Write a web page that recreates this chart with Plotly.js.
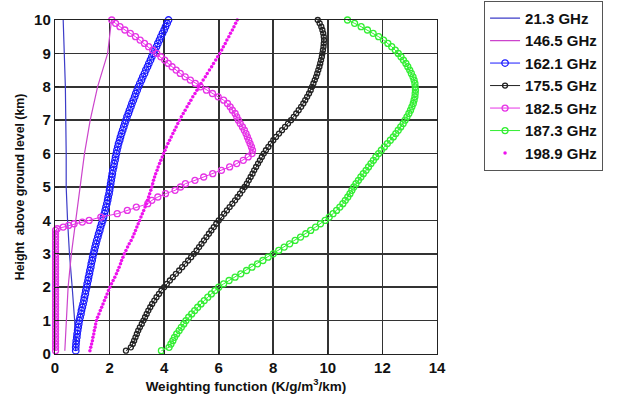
<!DOCTYPE html>
<html><head><meta charset="utf-8">
<script src="https://cdn.plot.ly/plotly-3.0.1.min.js"></script>
<style>html,body{margin:0;padding:0;background:#fff;}#chart{width:619px;height:402px;}</style>
</head><body><div id="chart"></div>
<script>
// Heights (km)
var hLine = [0.1, 1, 2, 3, 4, 5, 6, 7, 8, 9, 10];
var hFine = [0.1,0.2,0.3,0.4,0.5,0.6,0.7,0.8,0.9,1.0,1.1,1.2,1.3,1.4,1.5,1.6,1.7,1.8,1.9,2.0,2.1,2.2,2.3,2.4,2.5,2.6,2.7,2.8,2.9,3.0,3.1,3.2,3.3,3.4,3.5,3.6,3.7,3.8,3.9,4.0,4.1,4.2,4.3,4.4,4.5,4.6,4.7,4.8,4.9,5.0,5.1,5.2,5.3,5.4,5.5,5.6,5.7,5.8,5.9,6.0,6.1,6.2,6.3,6.4,6.5,6.6,6.7,6.8,6.9,7.0,7.1,7.2,7.3,7.4,7.5,7.6,7.7,7.8,7.9,8.0,8.1,8.2,8.3,8.4,8.5,8.6,8.7,8.8,8.9,9.0,9.1,9.2,9.3,9.4,9.5,9.6,9.7,9.8,9.9,10.0];

// 21.3 GHz and 146.5 GHz (lines)
var w213 = [0.76, 0.72, 0.63, 0.53, 0.46, 0.41, 0.41, 0.40, 0.38, 0.34, 0.30];
var w1465 = [0.36, 0.41, 0.48, 0.60, 0.76, 0.93, 1.08, 1.29, 1.56, 1.93, 2.07];

// 162.1 GHz
var w1621 = [0.76,0.76,0.77,0.78,0.80,0.81,0.83,0.85,0.87,0.89,0.92,0.95,0.97,1.00,1.03,1.06,1.08,1.11,1.13,1.16,1.18,1.21,1.23,1.26,1.28,1.31,1.33,1.36,1.38,1.41,1.44,1.47,1.50,1.53,1.57,1.60,1.64,1.67,1.71,1.75,1.78,1.81,1.84,1.87,1.90,1.93,1.95,1.98,2.00,2.02,2.04,2.06,2.08,2.10,2.12,2.15,2.17,2.20,2.22,2.25,2.27,2.30,2.33,2.37,2.40,2.44,2.48,2.52,2.56,2.60,2.64,2.69,2.73,2.78,2.82,2.87,2.92,2.96,3.01,3.06,3.11,3.17,3.22,3.28,3.33,3.39,3.44,3.50,3.55,3.61,3.66,3.72,3.77,3.83,3.88,3.94,4.00,4.05,4.11,4.16];

// 175.5 GHz
var w1755 = [2.60,2.78,2.85,2.90,2.95,3.00,3.05,3.11,3.18,3.24,3.30,3.36,3.42,3.49,3.56,3.64,3.72,3.81,3.90,4.00,4.10,4.21,4.32,4.43,4.55,4.66,4.77,4.88,4.99,5.09,5.19,5.28,5.37,5.46,5.55,5.64,5.73,5.82,5.91,6.00,6.10,6.20,6.30,6.40,6.50,6.60,6.69,6.78,6.87,6.95,7.03,7.10,7.17,7.24,7.30,7.37,7.44,7.51,7.58,7.65,7.73,7.82,7.91,8.00,8.10,8.21,8.32,8.43,8.54,8.65,8.75,8.84,8.93,9.02,9.10,9.17,9.24,9.31,9.37,9.42,9.47,9.52,9.57,9.61,9.65,9.69,9.72,9.75,9.78,9.80,9.82,9.84,9.85,9.86,9.85,9.83,9.80,9.76,9.70,9.63];

// 187.3 GHz
var w1873 = [3.90,4.18,4.25,4.32,4.38,4.46,4.55,4.63,4.72,4.80,4.90,5.01,5.12,5.23,5.35,5.47,5.60,5.73,5.86,6.00,6.18,6.38,6.60,6.81,7.02,7.22,7.42,7.62,7.81,8.00,8.20,8.40,8.60,8.80,9.00,9.19,9.37,9.55,9.73,9.90,10.05,10.19,10.32,10.44,10.55,10.64,10.73,10.81,10.88,10.95,11.03,11.12,11.21,11.30,11.40,11.49,11.58,11.67,11.76,11.86,11.96,12.07,12.18,12.29,12.40,12.49,12.58,12.67,12.76,12.83,12.90,12.97,13.03,13.08,13.13,13.16,13.19,13.20,13.21,13.20,13.19,13.16,13.12,13.06,13.00,12.93,12.86,12.77,12.68,12.58,12.47,12.34,12.20,12.04,11.86,11.66,11.45,11.22,10.98,10.72];

// 182.5 GHz
var h1825 = [0.1,0.2,0.3,0.4,0.5,0.6,0.7,0.8,0.9,1.0,1.1,1.2,1.3,1.4,1.5,1.6,1.7,1.8,1.9,2.0,2.1,2.2,2.3,2.4,2.5,2.6,2.7,2.8,2.9,3.0,3.1,3.2,3.3,3.4,3.5,3.6,3.7,3.75,3.8,3.85,3.9,3.95,4.0,4.1,4.2,4.3,4.4,4.5,4.6,4.7,4.8,4.9,5.0,5.1,5.2,5.3,5.4,5.5,5.6,5.7,5.8,5.9,6.0,6.1,6.2,6.3,6.4,6.5,6.6,6.7,6.8,6.9,7.0,7.1,7.2,7.3,7.4,7.5,7.6,7.7,7.8,7.9,8.0,8.1,8.2,8.3,8.4,8.5,8.6,8.7,8.8,8.9,9.0,9.1,9.2,9.3,9.4,9.5,9.6,9.7,9.8,9.9,10.0];
var w1825 = [0.02,0.02,0.02,0.02,0.02,0.02,0.02,0.02,0.02,0.02,0.02,0.02,0.02,0.02,0.02,0.02,0.02,0.02,0.02,0.02,0.02,0.02,0.02,0.02,0.02,0.02,0.02,0.02,0.02,0.02,0.02,0.02,0.02,0.02,0.02,0.02,0.02,0.08,0.30,0.50,0.70,1.00,1.25,1.68,2.28,2.65,2.98,3.40,3.55,3.77,4.05,4.40,4.60,4.78,5.13,5.45,5.78,6.10,6.40,6.66,6.90,7.08,7.22,7.24,7.20,7.15,7.10,7.05,7.00,6.94,6.87,6.79,6.72,6.66,6.60,6.50,6.42,6.32,6.18,5.98,5.77,5.55,5.33,5.14,4.96,4.77,4.59,4.44,4.29,4.15,4.02,3.88,3.73,3.58,3.43,3.28,3.12,2.95,2.76,2.56,2.38,2.22,2.08];

// 198.9 GHz
var w1989 = [1.28,1.31,1.34,1.37,1.39,1.42,1.44,1.47,1.49,1.52,1.56,1.61,1.66,1.71,1.76,1.81,1.86,1.91,1.96,2.01,2.07,2.13,2.19,2.25,2.30,2.35,2.40,2.44,2.49,2.54,2.60,2.66,2.72,2.79,2.85,2.90,2.95,3.00,3.05,3.10,3.15,3.20,3.25,3.30,3.35,3.39,3.43,3.47,3.51,3.55,3.58,3.61,3.65,3.69,3.74,3.78,3.83,3.88,3.93,3.98,4.03,4.08,4.14,4.20,4.26,4.32,4.38,4.44,4.50,4.56,4.63,4.70,4.77,4.84,4.91,4.98,5.05,5.13,5.20,5.27,5.35,5.43,5.51,5.58,5.66,5.74,5.81,5.89,5.96,6.04,6.11,6.17,6.24,6.30,6.37,6.43,6.50,6.56,6.62,6.68];

var names = ['21.3 GHz','146.5 GHz','162.1 GHz','175.5 GHz','182.5 GHz','187.3 GHz','198.9 GHz'];

function circ(x, y, name, color, size) {
  return {x: x, y: y, name: name, type: 'scatter', mode: 'lines+markers', cliponaxis: false,
    line: {color: color, width: 1},
    marker: {symbol: 'circle-open', size: size, color: color, line: {width: 1.3, color: color}}};
}

var data = [
  {x: w213, y: hLine, name: names[0], type: 'scatter', mode: 'lines', line: {color: '#3c3cc8', width: 1.2}},
  {x: w1465, y: hLine, name: names[1], type: 'scatter', mode: 'lines', line: {color: '#cc44cc', width: 1.2}},
  circ(w1621, hFine, names[2], '#1a1aff', 6.5),
  circ(w1755, hFine, names[3], '#222222', 5),
  circ(w1825, h1825, names[4], '#e633e6', 6),
  circ(w1873, hFine, names[5], '#33ee33', 6),
  {x: w1989, y: hFine, name: names[6], type: 'scatter', mode: 'markers', cliponaxis: false,
    marker: {symbol: 'circle', size: 3.5, color: '#ee11ee'}}
];

var fontFam = 'Liberation Sans, Arial, sans-serif';
var axCommon = {
  showgrid: true, gridcolor: '#333', gridwidth: 1.6,
  showline: true, linecolor: '#222', linewidth: 1.2, mirror: true,
  zeroline: false, ticks: 'inside', ticklen: 4, tickcolor: '#222',
  tickfont: {family: fontFam, size: 15, color: '#111', weight: 'bold'}
};

var layout = {
  width: 619, height: 402,
  margin: {l: 55, r: 182, t: 20, b: 48},
  paper_bgcolor: '#fff', plot_bgcolor: '#fff',
  showlegend: true,
  legend: {xref: 'container', yref: 'container', x: 0.782, y: 0.998, xanchor: 'left', yanchor: 'top',
    bgcolor: '#fff', bordercolor: '#555', borderwidth: 1,
    font: {family: fontFam, size: 15, color: '#111', weight: 'bold'}},
  xaxis: Object.assign({}, axCommon, {range: [0, 14], dtick: 2, tick0: 0,
    title: {text: 'Weighting function (K/g/m<sup>3</sup>/km)', standoff: 4,
      font: {family: fontFam, size: 13.5, color: '#111', weight: 'bold'}}}),
  yaxis: Object.assign({}, axCommon, {range: [0, 10], dtick: 1, tick0: 0,
    title: {text: 'Height  above ground level (km)', standoff: 6,
      font: {family: fontFam, size: 12.3, color: '#111', weight: 'bold'}}})
};

Plotly.newPlot('chart', data, layout, {displayModeBar: false, staticPlot: true});
</script>
</body></html>
